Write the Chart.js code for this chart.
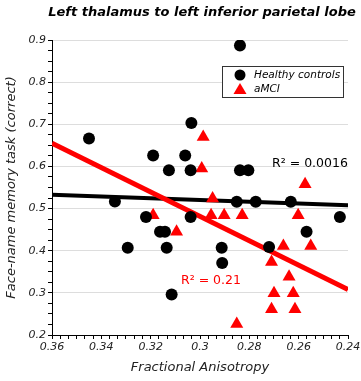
<!DOCTYPE html>
<html>
<head>
<meta charset="utf-8">
<script src="https://cdn.jsdelivr.net/npm/chart.js@4"></script>
<style>
  body { margin: 0; background: #fff; }
</style>
</head>
<body>
<canvas id="myChart" width="361" height="381"></canvas>
<script>
// healthy controls (black circles)
const healthyFA = [0.345, 0.3035, 0.319, 0.306, 0.3126, 0.3038, 0.2838, 0.2838, 0.2804,
    0.3345, 0.3219, 0.3038, 0.3162, 0.3142, 0.3293, 0.3135, 0.3115,
    0.2851, 0.2774, 0.2632, 0.2433, 0.2568, 0.2912, 0.291, 0.272];
const healthyScore = [0.666, 0.703, 0.626, 0.626, 0.591, 0.591, 0.887, 0.591, 0.591,
    0.517, 0.480, 0.480, 0.445, 0.445, 0.407, 0.407, 0.296,
    0.516, 0.516, 0.516, 0.480, 0.445, 0.407, 0.371, 0.409];

// aMCI (red triangles)
const amciFA = [0.2987, 0.2993, 0.2574, 0.319, 0.3095, 0.2949, 0.2955, 0.2902, 0.2829,
    0.2602, 0.2662, 0.2551, 0.271, 0.2639, 0.27, 0.2622, 0.271, 0.2615, 0.2851];
const amciScore = [0.670, 0.595, 0.558, 0.484, 0.445, 0.524, 0.484, 0.484, 0.484,
    0.484, 0.411, 0.411, 0.373, 0.338, 0.299, 0.299, 0.261, 0.261, 0.226];

// fitted lines (ends at the x limits)
const fitFA = [0.36, 0.24];
const healthyFit = [0.533, 0.508];
const amciFit = [0.655, 0.308];

const xTicks = [0.36, 0.34, 0.32, 0.3, 0.28, 0.26, 0.24];
const yTicks = [0.2, 0.3, 0.4, 0.5, 0.6, 0.7, 0.8, 0.9];

const FONT = "'DejaVu Sans', sans-serif";

function points(xs, ys) {
    return xs.map((x, i) => ({ x: x, y: ys[i] }));
}

// major + minor ticks
function buildTicks(majors, parts) {
    const out = [];
    for (let i = 0; i < majors.length; i++) {
        out.push({ value: majors[i], major: true });
        if (i < majors.length - 1) {
            const step = (majors[i + 1] - majors[i]) / parts;
            for (let k = 1; k < parts; k++) {
                out.push({ value: majors[i] + step * k, major: false });
            }
        }
    }
    return out.sort((a, b) => a.value - b.value);
}

const extras = {
    id: 'extras',
    afterDraw(chart) {
        const ctx = chart.ctx;
        const xs = chart.scales.x;
        const ys = chart.scales.y;
        ctx.save();

        // title
        ctx.fillStyle = '#000';
        ctx.font = 'italic bold 13px ' + FONT;
        ctx.textAlign = 'center';
        ctx.textBaseline = 'middle';
        ctx.fillText('Left thalamus to left inferior parietal lobe', 202, 13);

        // R² labels
        ctx.textAlign = 'left';
        ctx.font = '12.5px ' + FONT;
        ctx.fillStyle = '#000';
        ctx.fillText('R\u00b2 = 0.0016', xs.getPixelForValue(0.2708), ys.getPixelForValue(0.607));
        ctx.fillStyle = '#ff0000';
        ctx.fillText('R\u00b2 = 0.21', xs.getPixelForValue(0.3077), ys.getPixelForValue(0.328));

        // legend box
        ctx.fillStyle = '#fff';
        ctx.fillRect(222.5, 66.5, 121, 31);
        ctx.strokeStyle = '#333';
        ctx.lineWidth = 1;
        ctx.strokeRect(222.5, 66.5, 121, 31);

        ctx.fillStyle = '#000';
        ctx.beginPath();
        ctx.arc(240, 75, 5.5, 0, Math.PI * 2);
        ctx.fill();
        ctx.fillStyle = '#ff0000';
        ctx.beginPath();
        ctx.moveTo(240, 83);
        ctx.lineTo(246.5, 94);
        ctx.lineTo(233.5, 94);
        ctx.closePath();
        ctx.fill();

        ctx.fillStyle = '#000';
        ctx.font = 'italic 10.5px ' + FONT;
        ctx.fillText('Healthy controls', 254, 75);
        ctx.fillText('aMCI', 254, 89);
        ctx.restore();
    }
};

const ctx = document.getElementById('myChart').getContext('2d');
const myChart = new Chart(ctx, {
    type: 'scatter',
    data: {
        datasets: [
            {
                label: 'Healthy controls',
                data: points(healthyFA, healthyScore),
                backgroundColor: '#000',
                borderColor: '#000',
                pointRadius: 6,
                pointBorderWidth: 0,
                order: 0
            },
            {
                label: 'aMCI',
                data: points(amciFA, amciScore),
                pointStyle: 'triangle',
                backgroundColor: '#ff0000',
                borderColor: '#ff0000',
                pointRadius: 7.5,
                pointBorderWidth: 0,
                order: 0
            },
            {
                label: 'aMCI fit',
                data: points(fitFA, amciFit),
                showLine: true,
                borderColor: '#ff0000',
                borderWidth: 5,
                pointRadius: 0,
                order: 1
            },
            {
                label: 'Healthy fit',
                data: points(fitFA, healthyFit),
                showLine: true,
                borderColor: '#000',
                borderWidth: 4,
                pointRadius: 0,
                order: 2
            }
        ]
    },
    options: {
        responsive: false,
        animation: false,
        layout: { padding: { top: 40, right: 13, left: 0, bottom: 0 } },
        plugins: {
            legend: { display: false },
            tooltip: { enabled: false }
        },
        scales: {
            x: {
                type: 'linear',
                reverse: true,
                min: 0.24,
                max: 0.36,
                afterBuildTicks: (scale) => { scale.ticks = buildTicks(xTicks, 6); },
                afterFit: (scale) => { scale.height = 46; },
                grid: { drawOnChartArea: false, color: '#000', tickLength: 4 },
                border: { color: '#000', width: 1 },
                ticks: {
                    autoSkip: false,
                    maxRotation: 0,
                    padding: 2,
                    color: '#222',
                    font: { family: FONT, size: 11, style: 'italic' },
                    callback: (v, i, ticks) => ticks[i].major ? String(parseFloat(v.toFixed(2))) : ''
                },
                title: {
                    display: true,
                    text: 'Fractional Anisotropy',
                    color: '#222',
                    padding: { top: 0, bottom: 6 },
                    font: { family: FONT, size: 13, style: 'italic' }
                }
            },
            y: {
                type: 'linear',
                min: 0.2,
                max: 0.9,
                afterBuildTicks: (scale) => { scale.ticks = buildTicks(yTicks, 4); },
                afterFit: (scale) => { scale.width = 52; },
                grid: {
                    color: (c) => (c.tick && c.tick.major && c.tick.value > 0.21) ? '#dddddd' : 'transparent',
                    tickColor: '#000',
                    tickLength: 4,
                    lineWidth: 1
                },
                border: { color: '#000', width: 1 },
                ticks: {
                    autoSkip: false,
                    padding: 2,
                    color: '#222',
                    font: { family: FONT, size: 11, style: 'italic' },
                    callback: (v, i, ticks) => ticks[i].major ? String(parseFloat(v.toFixed(2))) : ''
                },
                title: {
                    display: true,
                    text: 'Face-name memory task (correct)',
                    color: '#222',
                    padding: { top: 4, bottom: 0 },
                    font: { family: FONT, size: 13, style: 'italic' }
                }
            }
        }
    },
    plugins: [extras]
});
</script>
</body>
</html>
